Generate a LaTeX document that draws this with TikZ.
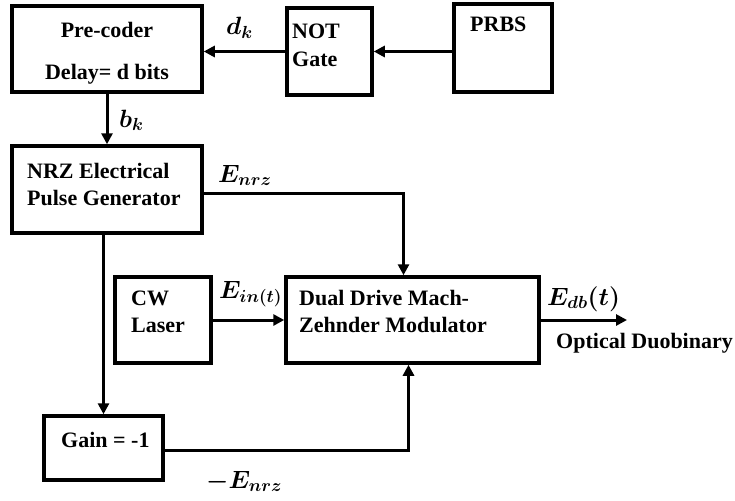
\RequirePackage{fix-cm}
\documentclass[tikz,border=0pt]{standalone}
\usepackage{fontspec}
\setmainfont{Liberation Serif}
\usepackage{amsmath}
\usepackage{bm}
\usetikzlibrary{arrows.meta,positioning}

\tikzset{
  every node/.style={font=\bfseries\fontsize{22}{27}\selectfont},
  blk/.style={draw, line width=3.5pt, inner sep=0pt},
  txt/.style={inner sep=0pt, align=left, anchor=north west},
  sig/.style={inner sep=0pt, anchor=base west, font=\bfseries\fontsize{25}{27}\selectfont},
  wire/.style={line width=3pt},
  arr/.style={wire, -{Triangle[length=11pt,width=11pt]}}
}

\begin{document}
\begin{tikzpicture}[x=1pt,y=-1pt]
\useasboundingbox (0,0) rectangle (735,500);

% Bloques
\node[blk, minimum width=190pt, minimum height=86pt] (pre) at (107,49) {};
\node[blk, minimum width=85pt, minimum height=87pt] (notg) at (329.5,51.5) {};
\node[blk, minimum width=98pt, minimum height=88pt] (prbs) at (503,48) {};
\node[blk, minimum width=190pt, minimum height=87pt] (nrz) at (107,189.5) {};
\node[blk, minimum width=96pt, minimum height=86pt] (cw) at (163,320) {};
\node[blk, minimum width=253pt, minimum height=86pt] (ddmzm) at (412.5,320) {};
\node[blk, minimum width=119pt, minimum height=64pt] (gain) at (103.5,448) {};

% Textos de los bloques
\node[txt, anchor=north, align=center] at (107,22) {Pre-coder\\[15pt]Delay= d bits};
\node[txt] at (292,24) {NOT\\[1pt]Gate};
\node[txt] at (470,17) {PRBS};
\node[txt] at (27,163) {NRZ Electrical\\Pulse Generator};
\node[txt] at (131,291) {CW\\Laser};
\node[txt] at (299,290) {Dual Drive Mach-\\Zehnder Modulator};
\node[txt] at (61,432) {Gain = -1};

% Etiquetas de las señales
\node[sig] (dk) at (226,35) {$\bm{d_k}$};
\node[sig] (bk) at (119,127) {$\bm{b_k}$};
\node[sig] (enrz) at (218,182) {$\bm{E_{nrz}}$};
\node[sig] (ein) at (219,298) {$\bm{E_{in(t)}}$};
\node[sig] (edb) at (547,305) {$\bm{E_{db}(t)}$};
\node[sig] (menrz) at (206,488) {$\bm{-E_{nrz}}$};
\node[txt, anchor=base west] (odb) at (556,348) {Optical Duobinary};

% Conexiones
\coordinate (out) at (627,320);
\draw[arr] (prbs.west |- notg.east) -- (notg.east);
\draw[arr] (notg.west) -- (notg.west -| pre.east);
\draw[arr] (pre.south) -- (nrz.north);
\draw[arr] ([yshift=-3.5pt]nrz.east) -| ([xshift=-9pt]ddmzm.north);
\draw[arr] (nrz.south -| gain.north) -- (gain.north);
\draw[arr] ([yshift=-2pt]gain.east) -| ([xshift=-4pt]ddmzm.south);
\draw[arr] (cw.east) -- (ddmzm.west);
\draw[arr] (ddmzm.east) -- (out);
\end{tikzpicture}
\end{document}
